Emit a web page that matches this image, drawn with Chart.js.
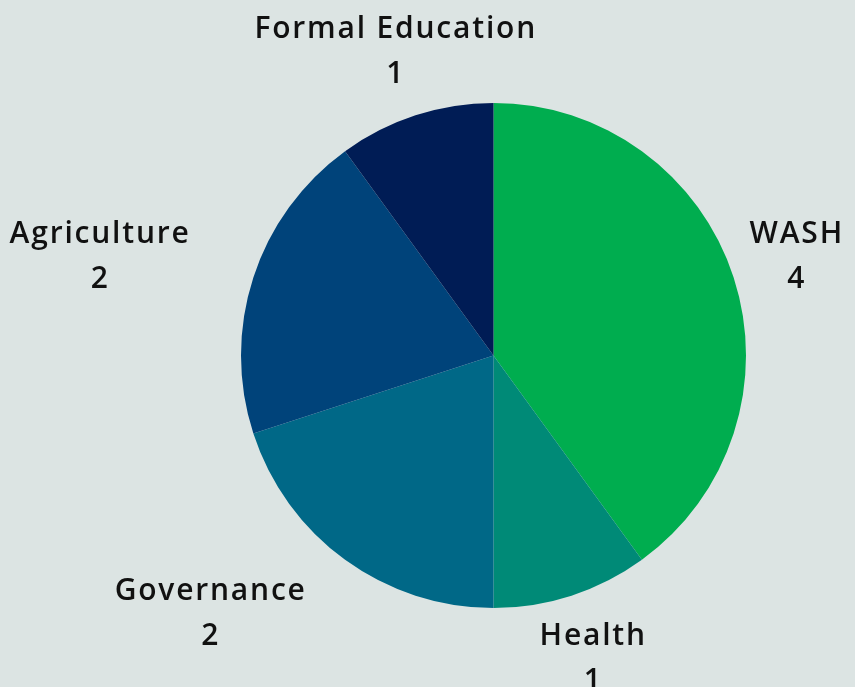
<!DOCTYPE html>
<html>
<head>
<meta charset="utf-8">
<script src="https://cdn.jsdelivr.net/npm/chart.js@4"></script>
<style>
  html, body { margin: 0; padding: 0; background: #dce4e3; }
  #wrap { width: 855px; height: 687px; }
</style>
</head>
<body>
<div id="wrap"><canvas id="myChart"></canvas></div>
<script>
const labels = ['WASH', 'Health', 'Governance', 'Agriculture', 'Formal Education'];
const values = [4, 1, 2, 2, 1];
const colors = ['#00ad4f', '#008a77', '#006887', '#00437a', '#001c55'];

// etiquetas fuera del pastel
const outsideLabels = {
    id: 'outsideLabels',
    afterDraw(chart) {
        const ctx = chart.ctx;
        const meta = chart.getDatasetMeta(0);
        ctx.save();
        ctx.font = '600 30px "Open Sans"';
        ctx.letterSpacing = '1.8px';
        ctx.fillStyle = '#111';
        ctx.textBaseline = 'middle';
        meta.data.forEach((arc, i) => {
            const mid = (arc.startAngle + arc.endAngle) / 2;
            const r = arc.outerRadius + 67;
            let x = arc.x + Math.cos(mid) * r;
            const y = arc.y + Math.sin(mid) * r;
            const lines = [labels[i], String(values[i])];
            const w = Math.max(...lines.map(t => ctx.measureText(t).width));
            let cx;
            if (Math.cos(mid) < -0.5) {
                cx = x - w / 2;
            } else if (Math.cos(mid) > 0.5) {
                cx = Math.min(x + w / 2, chart.width - 12 - w / 2);
            } else {
                cx = x;
            }
            ctx.textAlign = 'center';
            // +1 compensa el espacio final del letterSpacing
            ctx.fillText(lines[0], cx + 1, y - 22.5);
            ctx.fillText(lines[1], cx + 1, y + 22.5);
        });
        ctx.restore();
    }
};

const ctx = document.getElementById('myChart');
new Chart(ctx, {
    type: 'pie',
    data: {
        labels: labels,
        datasets: [{
            data: values,
            backgroundColor: colors,
            borderWidth: 0
        }]
    },
    options: {
        responsive: true,
        maintainAspectRatio: false,
        animation: false,
        layout: { padding: { left: 241, right: 109, top: 103, bottom: 79 } },
        plugins: {
            legend: { display: false },
            tooltip: { enabled: false }
        }
    },
    plugins: [outsideLabels]
});
</script>
</body>
</html>
